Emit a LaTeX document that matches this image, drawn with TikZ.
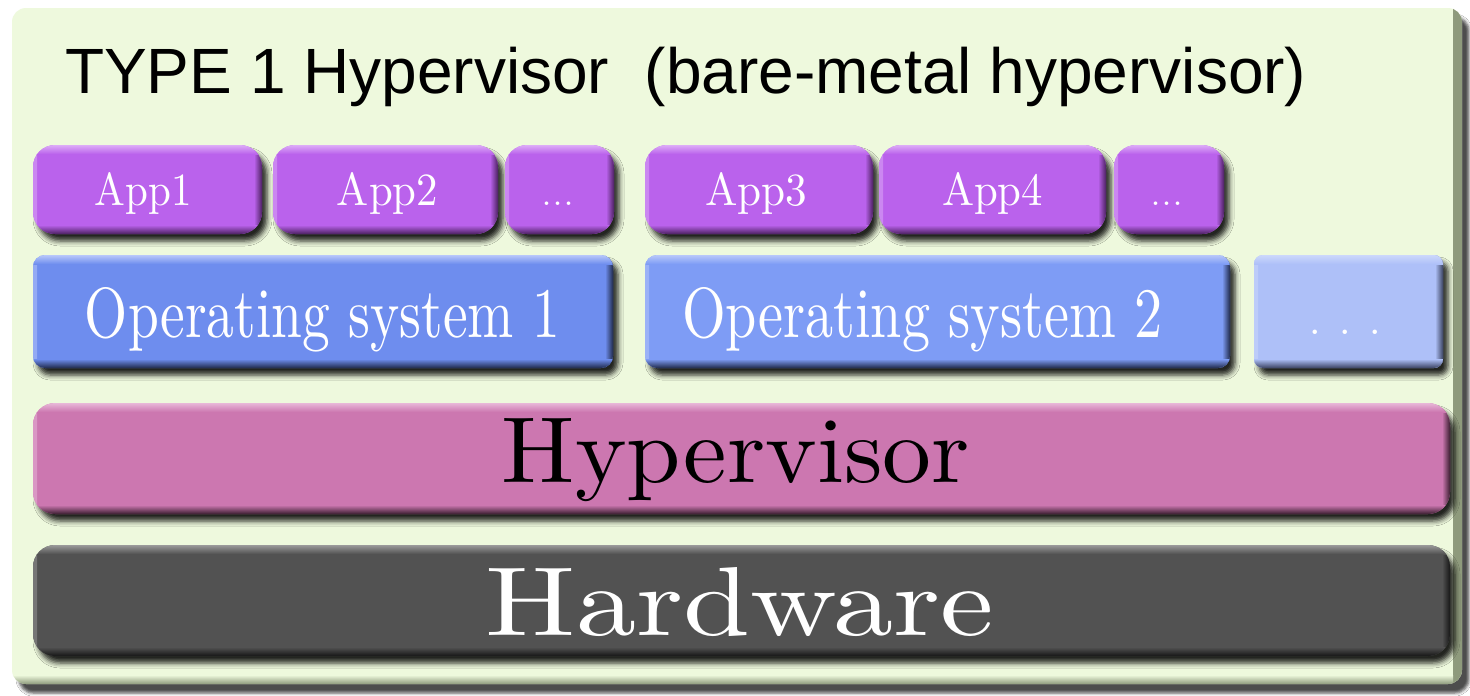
\documentclass[tikz,border=0pt]{standalone}
\usepackage{graphicx}
\usepackage{fontspec}
\newfontfamily\sansT{Liberation Sans}
\usetikzlibrary{shadows.blur}
\definecolor{panelc}{HTML}{EEF9DD}
\definecolor{paneldark}{HTML}{8E9A7C}
\definecolor{appbase}{HTML}{BA62EC}
\definecolor{applight}{HTML}{DDADF7}
\definecolor{appdark}{HTML}{4B2160}
\definecolor{osonebase}{HTML}{6E8DEE}
\definecolor{ostwobase}{HTML}{7E9CF5}
\definecolor{oslight}{HTML}{B8C8FA}
\definecolor{osdark}{HTML}{202A4A}
\definecolor{osdbase}{HTML}{AEC0F8}
\definecolor{osdlight}{HTML}{CCD8FB}
\definecolor{osddark}{HTML}{3A4260}
\definecolor{hypbase}{HTML}{CC77B0}
\definecolor{hyplight}{HTML}{E8B8D8}
\definecolor{hypdark}{HTML}{3A1E30}
\definecolor{hwbase}{HTML}{525252}
\definecolor{hwlight}{HTML}{9A9A9A}
\definecolor{hwdark}{HTML}{161616}
\newcommand\fit[3]{\resizebox{#1}{#2}{#3}}
\tikzset{
  bev/.style n args={4}{rounded corners=#4, fill=#1, draw=none, inner sep=0pt,
    blur shadow={shadow xshift=5pt, shadow yshift=-7pt, shadow blur radius=5pt,
      shadow opacity=85},
    path picture={
      \shade[sharp corners, left color=#2!50!#1, right color=#1]
        (path picture bounding box.north west) rectangle ([xshift=4pt]path picture bounding box.south west);
      \shade[sharp corners, left color=#1, right color=#3]
        ([xshift=-8pt]path picture bounding box.north east) rectangle (path picture bounding box.south east);
      \shade[sharp corners, top color=#2, bottom color=#1]
        (path picture bounding box.north west) rectangle ([yshift=-9pt]path picture bounding box.north east);
      \shade[sharp corners, top color=#1, bottom color=#3]
        ([yshift=9pt]path picture bounding box.south west) rectangle (path picture bounding box.south east);
    }},
  panelbox/.style={rounded corners=14pt, fill=panelc, draw=none, inner sep=0pt,
    blur shadow={shadow xshift=7pt, shadow yshift=-9pt, shadow blur radius=3pt,
      shadow opacity=70},
    path picture={
      \shade[sharp corners, left color=panelc, right color=paneldark]
        ([xshift=-9pt]path picture bounding box.north east) rectangle (path picture bounding box.south east);
      \shade[sharp corners, top color=panelc, bottom color=paneldark]
        ([yshift=9pt]path picture bounding box.south west) rectangle ([xshift=-9pt]path picture bounding box.south east);
    }},
  appbox/.style={bev={appbase}{applight}{appdark}{22pt}, minimum height=89pt},
  lbl/.style={anchor=base, inner sep=0pt},
}
\begin{document}
\begin{tikzpicture}[x=1pt,y=-1pt]
\useasboundingbox (0,0) rectangle (1470,696);
\fill[white] (0,0) rectangle (1470,696);
% outer panel
\node[panelbox, minimum width=1450pt, minimum height=676pt] (panel) at (737,346) {};
\node[anchor=base west, inner sep=0pt, font=\sansT\fontsize{64}{70}\selectfont] (title) at (65,93)
  {TYPE 1 Hypervisor\ \ (bare-metal hypervisor)};
% applications
\node[appbox, minimum width=229pt] (app1) at (147.5,189.5) {};
\node[appbox, minimum width=225pt] (app2) at (385.5,189.5) {};
\node[appbox, minimum width=109pt] (appd1) at (559.5,189.5) {};
\node[appbox, minimum width=228pt] (app3) at (759,189.5) {};
\node[appbox, minimum width=227pt] (app4) at (992.5,189.5) {};
\node[appbox, minimum width=110pt] (appd2) at (1169,189.5) {};
\node[lbl, text=white] (app1t) at (143.5,205) {\fit{97pt}{33pt}{App1}};
\node[lbl, text=white] (app2t) at (387.5,205) {\fit{101pt}{33pt}{App2}};
\node[lbl, text=white, font=\fontsize{44}{50}\selectfont] (appd1t) at (557.5,205) {...};
\node[lbl, text=white] (app3t) at (756,205) {\fit{102pt}{33pt}{App3}};
\node[lbl, text=white] (app4t) at (992.5,205) {\fit{101pt}{33pt}{App4}};
\node[lbl, text=white, font=\fontsize{44}{50}\selectfont] (appd2t) at (1166.5,205) {...};
% operating systems
\node[bev={osonebase}{oslight}{osdark}{12pt}, minimum width=580pt, minimum height=113pt] (os1) at (323,311.5) {};
\node[bev={ostwobase}{oslight}{osdark}{12pt}, minimum width=585pt, minimum height=113pt] (os2) at (937.5,311.5) {};
\node[bev={osdbase}{osdlight}{osddark}{9pt}, minimum width=189pt, minimum height=113pt] (osd) at (1348.5,311.5) {};
\node[lbl, text=white] (os1t) at (322.5,337) {\fit{475pt}{50pt}{Operating system 1}};
\node[lbl, text=white] (os2t) at (922.5,337) {\fit{481pt}{50pt}{Operating system 2}};
\node[lbl, text=white, font=\fontsize{54}{60}\selectfont] (osdt) at (1345.5,334) {.\ .\ .};
% hypervisor
\node[bev={hypbase}{hyplight}{hypdark}{22pt}, minimum width=1417pt, minimum height=111pt] (hyp) at (741.5,458.5) {};
\node[lbl, text=black] (hypt) at (736,482) {\fit{468pt}{64pt}{Hypervisor}};
% hardware
\node[bev={hwbase}{hwlight}{hwdark}{22pt}, minimum width=1417pt, minimum height=111pt] (hw) at (741.5,600.5) {};
\node[lbl, text=white] (hwt) at (740,635.5) {\fit{508pt}{68pt}{Hardware}};
\end{tikzpicture}
\end{document}
